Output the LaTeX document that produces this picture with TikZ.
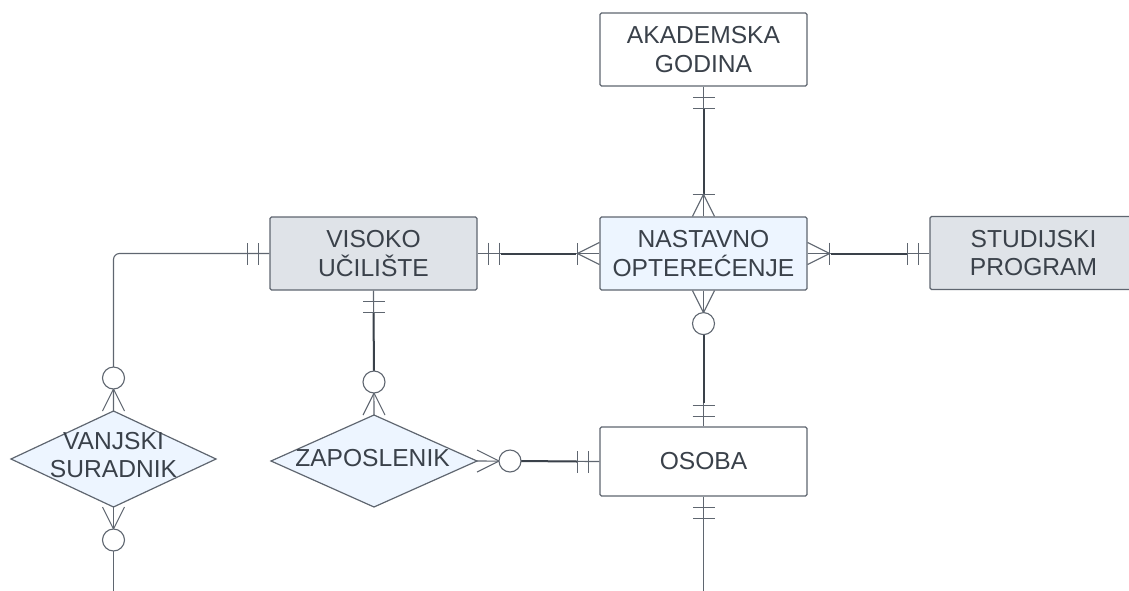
\documentclass[tikz,border=0pt]{standalone}
\usepackage{fontspec}
\setmainfont{Liberation Sans}
\usetikzlibrary{calc}
\definecolor{txtc}{HTML}{3A414A}
\definecolor{bordc}{HTML}{5F6670}
\definecolor{linec}{HTML}{5F6670}
\definecolor{darkc}{HTML}{3A414A}
\definecolor{greyf}{HTML}{DFE3E8}
\definecolor{bluef}{HTML}{EDF5FF}
\newcommand\diagfs{\fontsize{24.6}{28.2}\selectfont}
\begin{document}
\begin{tikzpicture}[x=1pt,y=-1pt,
  ent/.style={draw=bordc, line width=1.2pt, rounded corners=1.5pt, minimum width=207pt, minimum height=73pt, inner sep=0pt, align=center, font=\diagfs, text=txtc},
  lbl/.style={inner sep=0pt, align=center, font=\diagfs, text=txtc},
  thinl/.style={draw=linec, line width=1.1pt},
  thickl/.style={draw=darkc, line width=2pt},
  pics/tworbar/.style={code={\draw[thinl] (11,-11)--(11,11) (22,-11)--(22,11);}},
  pics/crowone/.style={code={\draw[thinl] (0,-11)--(22,0)--(0,11); \draw[thinl] (22,-11)--(22,11);}},
  pics/crowzero/.style={code={\draw[thinl] (0,-11)--(22,0)--(0,11); \draw[thinl,fill=white] (33,0) circle (11);}}
]
\useasboundingbox (0,0) rectangle (1129,590);
\clip (0,0) rectangle (1129,590);

% entities
\node[ent, fill=white] (ag) at (703.5,49.5) {AKADEMSKA\\GODINA};
\node[ent, fill=bluef] (no) at (703.5,253.5) {NASTAVNO\\OPTEREĆENJE};
\node[ent, fill=greyf] (vu) at (373.5,253.5) {VISOKO\\UČILIŠTE};
\node[ent, fill=greyf] (sp) at (1033.5,253) {STUDIJSKI\\PROGRAM};
\node[ent, fill=white, minimum height=69pt] (os) at (703.5,461.5) {OSOBA};

% weak entities (diamonds)
\coordinate (vanj) at (113.5,459);
\coordinate (zap) at (374,461);
\path[draw=bordc, line width=1.2pt, fill=bluef]
  ($(vanj)+(-102.5,0)$) coordinate (vanjW) -- ($(vanj)+(0,-48)$) coordinate (vanjN)
  -- ($(vanj)+(102.5,0)$) coordinate (vanjE) -- ($(vanj)+(0,48)$) coordinate (vanjS) -- cycle;
\path[draw=bordc, line width=1.2pt, fill=bluef]
  ($(zap)+(-103,0)$) coordinate (zapW) -- ($(zap)+(0,-46)$) coordinate (zapN)
  -- ($(zap)+(103,0)$) coordinate (zapE) -- ($(zap)+(0,46)$) coordinate (zapS) -- cycle;
\node[lbl] (vanjT) at (113.5,455) {VANJSKI\\SURADNIK};
\node[lbl] (zapT) at (372.5,458.5) {ZAPOSLENIK};

\coordinate (vanjEnd) at (113.5,595);
\coordinate (osEnd) at (703.5,595);

% connector lines
\draw[thinl] (ag.south) -- (no.north);
\draw[thickl] ($(ag.south)+(0,22)$) -- ($(no.north)+(0,-22)$);

\draw[thinl] (vu.east) -- (no.west);
\draw[thickl] ($(vu.east)+(23,0)$) -- ($(no.west)+(-23,0)$);

\draw[thinl] (no.east) -- (sp.west |- no.east);
\draw[thickl] ($(no.east)+(23,0)$) -- ($(sp.west |- no.east)+(-22,0)$);

\draw[thinl] (no.south) -- (os.north);
\draw[thickl] ($(no.south)+(0,44)$) -- ($(os.north)+(0,-23)$);

\draw[thinl] (vu.south) -- (zapN);
\draw[thickl] ($(vu.south)+(0,22)$) -- ($(zapN)+(0,-44)$);

\draw[thinl] (zapE) -- (os.west);
\draw[thickl] ($(zapE)+(44,0)$) -- ($(os.west)+(-22,0)$);

\draw[thinl, rounded corners=6pt] (vu.west) -| (vanjN);
\draw[thinl] (vanjS) -- (vanjEnd);
\draw[thinl] (os.south) -- (osEnd);

% cardinality marks
\pic[rotate=-90] at (ag.south) {tworbar};
\pic[rotate=90] at (no.north) {crowone};
\pic at (vu.east) {tworbar};
\pic[rotate=180] at (no.west) {crowone};
\pic at (no.east) {crowone};
\pic[rotate=180] at (sp.west |- no.east) {tworbar};
\pic[rotate=-90] at (no.south) {crowzero};
\pic[rotate=90] at ($(os.north)+(0,1)$) {tworbar};
\pic[rotate=-90] at (vu.south) {tworbar};
\pic[rotate=90] at (zapN) {crowzero};
\pic at (zapE) {crowzero};
\pic[rotate=180] at (os.west) {tworbar};
\pic[rotate=-90] at (os.south) {tworbar};
\pic[rotate=180] at (vu.west) {tworbar};
\pic[rotate=90] at (vanjN) {crowzero};
\pic[rotate=-90] at (vanjS) {crowzero};
\end{tikzpicture}
\end{document}
